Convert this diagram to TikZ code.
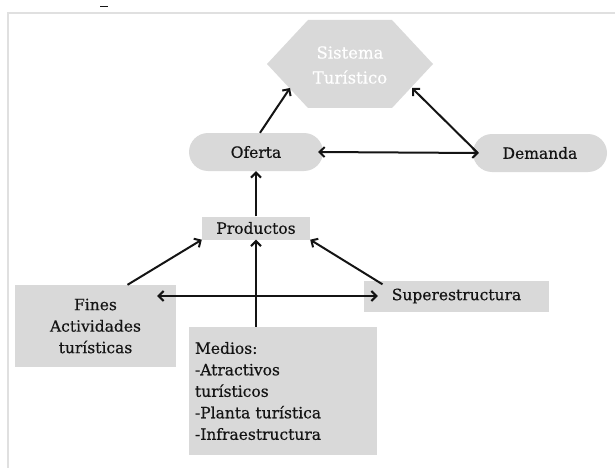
\documentclass[tikz,border=0pt]{standalone}
\usepackage{fontspec}
\setmainfont{DejaVu Serif}[BoldFont=DejaVu Serif, BoldFeatures={FakeBold=0.45}]
\usetikzlibrary{arrows.meta}
\definecolor{boxgray}{HTML}{D9D9D9}
\definecolor{framegray}{HTML}{E0E0E0}
\definecolor{ink}{HTML}{141414}
\begin{document}
\begin{tikzpicture}[x=1pt,y=-1pt,
  every node/.style={font=\fontsize{15.5}{21.5}\selectfont\bfseries, text=ink},
  graybox/.style={fill=boxgray, inner sep=0pt},
  pill/.style={graybox, rounded corners=19pt, minimum width=134pt, minimum height=38pt},
  tip/.tip={Straight Barb[length=5pt,width=10pt,line width=2pt]},
  link/.style={draw=ink, line width=2pt, -tip},
  both/.style={draw=ink, line width=2pt, tip-tip}]

\path[use as bounding box] (0,0) rectangle (615,468);

% page frame and heading remnant
\draw[framegray, line width=1.5pt] (8,468) -- (8,13) -- (615,13);
\draw[ink, line width=1.2pt] (100,6.5) -- (108,6.5);

% hexagon with its label
\fill[boxgray] (267,64) -- (308,20) -- (392,20) -- (433,64) -- (392,108) -- (308,108) -- cycle;
\node[text=white, align=center, font=\fontsize{16.5}{25}\selectfont\bfseries] (sistema) at (350,65) {Sistema\\Turístico};
\coordinate (sisBL) at (290,88);
\coordinate (sisBR) at (412,88);

% boxes
\node[pill] (oferta) at (256,152) {Oferta};
\node[pill] (demanda) at (540,153) {Demanda};
\node[graybox, minimum width=108pt, minimum height=23pt] (productos) at (256,228) {Productos};
\node[graybox, minimum width=161pt, minimum height=82pt, align=center] (fines) at (95.5,326) {Fines\\Actividades\\turísticas};
\node[graybox, minimum width=185pt, minimum height=31pt] (super) at (456.5,296) {Superestructura};
\node[graybox, minimum width=188pt, minimum height=128pt, text width=176pt, align=left] (medios) at (283,391)
  {Medios:\\-Atractivos\\turísticos\\-Planta turística\\-Infraestructura};

% connectors
\draw[link] ([xshift=4pt]oferta.north) -- (sisBL);
\draw[link] ([xshift=5pt]demanda.west) -- (sisBR);
\draw[both] ([xshift=-5pt]oferta.east) -- ([xshift=6pt]demanda.west);
\draw[link] (productos.north) -- (oferta.south);
\draw[link] (productos.south |- medios.north) -- (productos.south);
\draw[link] ([xshift=32pt]fines.north) -- (productos.south west);
\draw[link] ([xshift=-74pt,yshift=-4pt]super.north) -- (productos.south east);
\draw[both] ([xshift=-19pt]fines.east |- super.west) -- ([xshift=14pt]super.west);
\end{tikzpicture}
\end{document}
